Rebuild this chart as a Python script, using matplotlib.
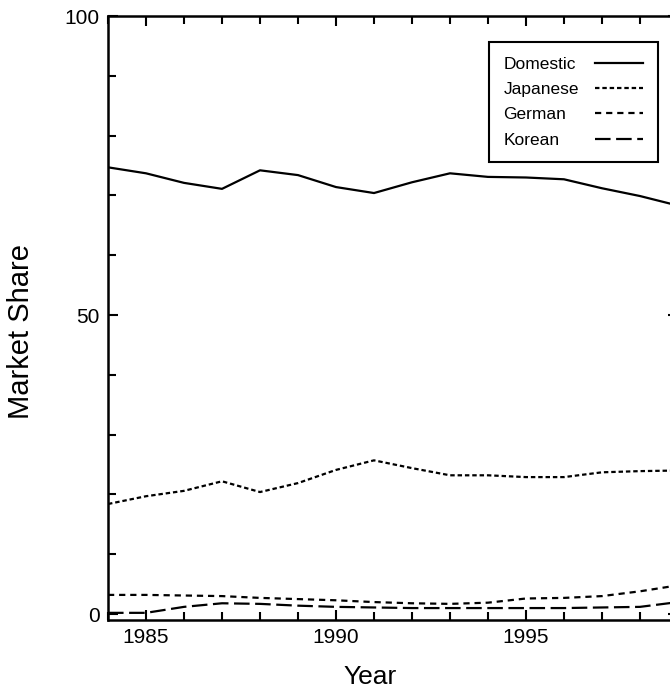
import matplotlib
matplotlib.use("Agg")
import matplotlib.pyplot as plt
from matplotlib.ticker import MultipleLocator

plt.rcParams['font.family'] = ['Liberation Sans', 'DejaVu Sans']

years = list(range(1984, 2000))
domestic = [74.7, 73.7, 72.1, 71.1, 74.2, 73.4, 71.4, 70.4, 72.2, 73.7, 73.1, 73.0, 72.7, 71.2, 69.9, 68.3]
japanese = [18.4, 19.7, 20.6, 22.2, 20.4, 21.9, 24.1, 25.7, 24.4, 23.2, 23.2, 22.9, 22.9, 23.7, 23.9, 24.0]
german = [3.2, 3.2, 3.1, 3.0, 2.7, 2.5, 2.3, 2.0, 1.8, 1.7, 1.9, 2.6, 2.7, 3.0, 3.8, 4.8]
korean = [0.2, 0.2, 1.2, 1.8, 1.7, 1.4, 1.2, 1.1, 1.0, 1.0, 1.0, 1.0, 1.0, 1.1, 1.2, 2.0]

series = [("Domestic", domestic, '-'),
          ("Japanese", japanese, (0, (2.0, 1.3))),
          ("German", german, (0, (2.8, 2.2))),
          ("Korean", korean, (0, (7, 2.5)))]

fig = plt.figure(figsize=(6.70, 6.94), dpi=100)
ax = fig.add_axes([0.1612, 0.1066, 0.8507, 0.8703])

for name, vals, ls in series:
    ax.plot(years, vals, color='black', linestyle=ls, linewidth=1.6, label=name)

ax.set_xlim(1984, 1999)
ax.set_ylim(-1, 100)
ax.set_xticks([1985, 1990, 1995])
ax.xaxis.set_minor_locator(MultipleLocator(1))
ax.set_yticks([0, 50, 100])
ax.yaxis.set_minor_locator(MultipleLocator(10))
ax.tick_params(which='both', direction='in', top=True, right=True, width=1.5, labelsize=15, pad=6)
ax.tick_params(which='major', length=7)
ax.tick_params(which='minor', length=6)
for sp in ax.spines.values():
    sp.set_linewidth(1.8)

ax.set_xlabel("Year", fontsize=19, va='center')
ax.xaxis.set_label_coords(0.46, -0.094)
ax.set_ylabel("Market Share", fontsize=21, va='center')
ax.yaxis.set_label_coords(-0.152, 0.478)

fs = 12.5
leg = ax.legend(loc='upper right', bbox_to_anchor=(0.965, 0.957), borderaxespad=0,
                markerfirst=False, handlelength=2.8, fontsize=fs, labelspacing=0.58,
                fancybox=False, edgecolor='black', framealpha=1, borderpad=0.85,
                handletextpad=0.9)
leg.get_frame().set_linewidth(1.5)

# left-align legend labels while keeping the handles in one column
renderer = fig.canvas.get_renderer()
px2pt = 72.0 / fig.dpi
base_sep = 0.9 * fs
for col in leg._legend_handle_box.get_children():
    rows = col.get_children()
    widths = [r.get_children()[0].get_bbox(renderer).width for r in rows]
    wmax = max(widths)
    col.align = 'left'
    for row, w in zip(rows, widths):
        row.sep = base_sep + (wmax - w) * px2pt

fig.savefig("out.png", dpi=100)
